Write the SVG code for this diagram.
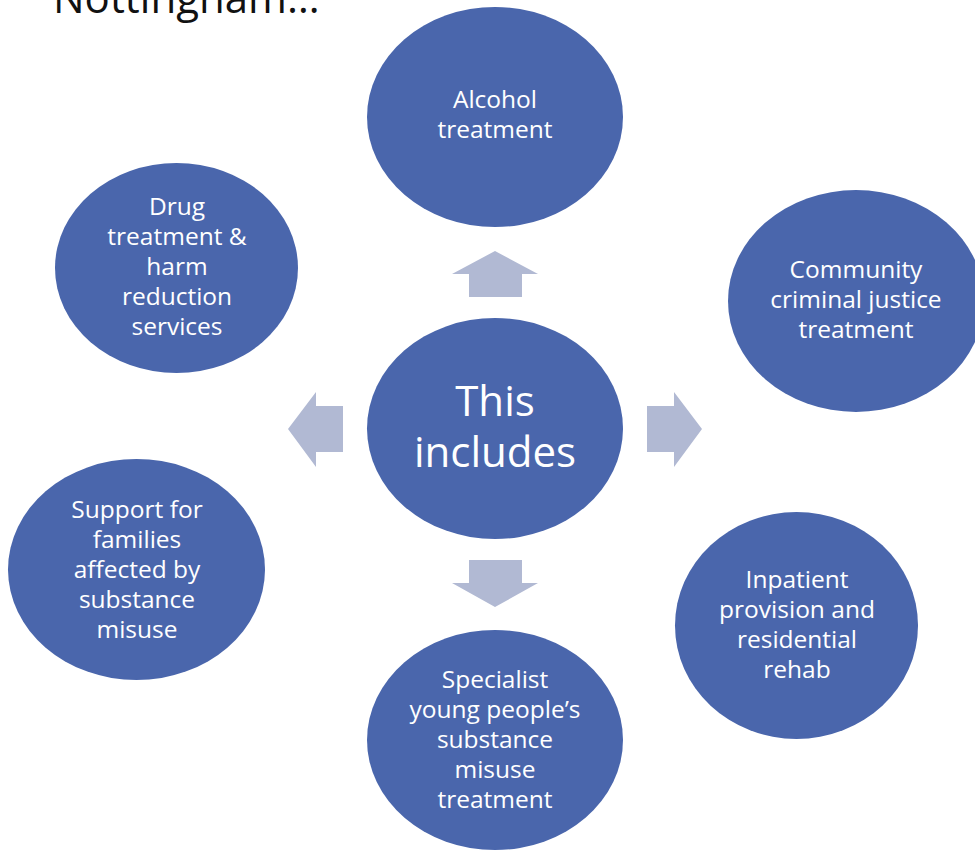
<svg xmlns="http://www.w3.org/2000/svg" width="975" height="850" viewBox="0 0 975 850">
<style>
.node{fill:#4A66AC}
.t{font-family:"Open Sans","Noto Sans","DejaVu Sans",sans-serif;font-size:24.5px;fill:#FFFFFF;text-anchor:middle}
.big{font-size:42px}
.arr{fill:#B1B9D3}
.title{font-family:"Open Sans","Noto Sans","DejaVu Sans",sans-serif;font-size:42px;fill:#111111}
</style>
<rect width="975" height="850" fill="#FFFFFF"/>
<text class="title" x="53" y="13">Nottingham…</text>
<g id="connectors">
<polygon class="arr" points="495,251 538,274 522,274 522,297 469,297 469,274 452,274"/>
<polygon class="arr" points="495,607 538,583 522,583 522,560 469,560 469,583 452,583"/>
<polygon class="arr" points="288,429 316,392 316,406 343,406 343,452 316,452 316,467"/>
<polygon class="arr" points="702,429 674,392 674,406 647,406 647,452 674,452 674,467"/>
</g>
<g id="center">
<ellipse class="node" cx="495" cy="428.5" rx="128" ry="110.5"/>
<text class="t big" x="495" y="416">This</text>
<text class="t big" x="495" y="467">includes</text>
</g>
<g id="alcohol">
<ellipse class="node" cx="495" cy="117" rx="128" ry="110"/>
<text class="t" x="495" y="108">Alcohol</text>
<text class="t" x="495" y="138">treatment</text>
</g>
<g id="drug">
<ellipse class="node" cx="176.5" cy="268" rx="121.5" ry="105"/>
<text class="t" x="177" y="215">Drug</text>
<text class="t" x="177" y="245">treatment &amp;</text>
<text class="t" x="177" y="275">harm</text>
<text class="t" x="177" y="305">reduction</text>
<text class="t" x="177" y="335">services</text>
</g>
<g id="community">
<ellipse class="node" cx="856" cy="301" rx="128" ry="111"/>
<text class="t" x="856" y="278">Community</text>
<text class="t" x="856" y="308">criminal justice</text>
<text class="t" x="856" y="338">treatment</text>
</g>
<g id="support">
<ellipse class="node" cx="136.5" cy="569.5" rx="128.5" ry="110.5"/>
<text class="t" x="137" y="518">Support for</text>
<text class="t" x="137" y="548">families</text>
<text class="t" x="137" y="578">affected by</text>
<text class="t" x="137" y="608">substance</text>
<text class="t" x="137" y="638">misuse</text>
</g>
<g id="inpatient">
<ellipse class="node" cx="796.5" cy="625.5" rx="121.5" ry="113.5"/>
<text class="t" x="797" y="588">Inpatient</text>
<text class="t" x="797" y="618">provision and</text>
<text class="t" x="797" y="648">residential</text>
<text class="t" x="797" y="678">rehab</text>
</g>
<g id="specialist">
<ellipse class="node" cx="495" cy="740" rx="128" ry="110"/>
<text class="t" x="495" y="688">Specialist</text>
<text class="t" x="495" y="718">young people’s</text>
<text class="t" x="495" y="748">substance</text>
<text class="t" x="495" y="778">misuse</text>
<text class="t" x="495" y="808">treatment</text>
</g>
</svg>
